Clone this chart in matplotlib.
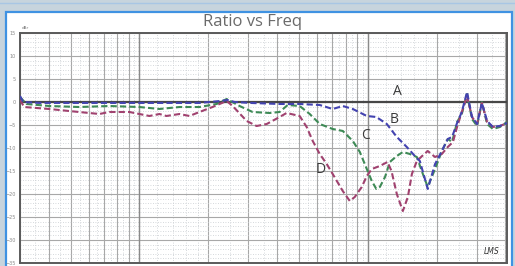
import numpy as np
import matplotlib
matplotlib.use("Agg")
import matplotlib.pyplot as plt
from matplotlib.patches import Rectangle
from matplotlib.ticker import FixedLocator, NullFormatter

# frequency (Hz) / level (dB)
freq_b = [300, 310, 364, 545, 817, 1224, 1833, 2240, 2430, 2610, 3040, 4110, 5030, 6160,
          7020, 7770, 8600, 9900, 10900, 12110, 13400, 14830, 16070, 16900, 18300, 19700,
          21100, 22400, 23400, 24600, 25800, 27200, 28600, 30100, 31600, 33300, 35300, 37900, 40700]
db_b = [1.3, 0, -0.2, -0.2, -0.2, -0.2, -0.2, 0.2, 0.43, 0, -0.2, -0.43, -0.43, -0.65,
        -1.52, -0.87, -1.52, -3.04, -3.26, -4.78, -7.6, -9.8, -11.74, -12.83, -18.9, -13.5,
        -10.65, -8.04, -7.6, -4.57, -2.17, 2.17, -3.26, -4.78, -0.2, -4.13, -5.43, -5.2, -4.57]

freq_c = [300, 320, 403, 545, 738, 1000, 1224, 1498, 1833, 2180, 2410, 2746, 3130, 3720,
          4110, 4460, 5030, 5570, 6160, 7020, 7770, 8600, 9230, 9900, 10410, 10900, 11290,
          11900, 12490, 13400, 14240, 15280, 16400, 17300, 18300, 19700, 21100, 22400, 23400,
          24600, 25800, 27200, 28600, 30100, 31600, 33300, 35300, 37900, 40700]
db_c = [1.09, -0.43, -0.87, -1.09, -0.87, -1.09, -1.52, -1.09, -1.09, -0.43, 0.65, -0.87,
        -2.17, -2.39, -2.17, -0.65, -0.87, -2.61, -4.78, -5.87, -6.3, -8.48, -10.87, -14.57,
        -17.17, -18.91, -18.48, -16.3, -13.04, -11.74, -10.87, -11.3, -11.96, -15.22, -18.48,
        -14.57, -10.65, -8.04, -8.7, -4.35, -2.61, 1.74, -3.7, -5.22, 0, -4.78, -5.87, -5.43, -4.35]

freq_d = [300, 313, 403, 493, 668, 738, 904, 1000, 1106, 1224, 1313, 1498, 1656, 1833, 2090,
          2410, 2560, 2950, 3260, 3610, 4110, 4410, 5030, 5400, 5740, 6160, 6610, 7020, 7770,
          8340, 8770, 9410, 9900, 10410, 11290, 12200, 12700, 13400, 14240, 14980, 15600, 16400,
          17300, 18300, 19700, 21100, 22400, 23600, 24600, 25800, 27200, 28600, 30100, 31600,
          33300, 35300, 37900, 40700]
db_d = [0.43, -1.09, -1.52, -1.96, -2.61, -2.17, -2.17, -2.61, -3.04, -2.61, -3.04, -2.61,
        -3.04, -2.17, -1.09, 0.22, -0.87, -4.13, -5.22, -4.78, -3.26, -2.39, -3.04, -5.43,
        -8.48, -11.3, -13.48, -15.65, -19.35, -21.52, -20.65, -18.48, -16.09, -14.57, -13.91,
        -13.04, -15.0, -20.0, -23.7, -20.65, -15.65, -12.83, -11.74, -10.65, -11.96, -11.3,
        -9.78, -8.7, -5.43, -2.17, 1.3, -3.26, -4.78, -0.22, -4.35, -5.43, -5.22, -4.57]

y_ticks = [15, 10, 5, 0, -5, -10, -15, -20, -25, -30, -35]
labels = ["A", "B", "C", "D"]
label_pos = [(13500, 2.2), (13000, -3.7), (9800, -7.3), (6200, -14.6)]

W, H = 515, 266
fig = plt.figure(figsize=(W / 100, H / 100), dpi=100, facecolor="#c7d4dd")

# page background bits
fig.add_artist(plt.Line2D([0, 1], [1 - 3 / H, 1 - 3 / H], color="#a8c6e4", lw=1, zorder=-2))
fig.add_artist(Rectangle((6 / W, -0.05), 506 / W, 1.05 - 12 / H, transform=fig.transFigure,
                         facecolor="white", edgecolor="#3f92e2", lw=1.6, zorder=-2))

ax = fig.add_axes([20 / W, 3 / H, 487 / W, 230 / H])
ax.set_zorder(1)
ax.set_xscale("log")
ax.set_xlim(300, 40700)
ax.set_ylim(-35, 15)
ax.set_facecolor("white")

# grid
subs = np.arange(1, 10)
major_x = [s * 10 ** e for e in range(2, 5) for s in subs]
minor_x = [s * 10 ** e for e in range(2, 5)
           for s in [1.2, 1.4, 1.6, 1.8, 2.5, 3.5, 4.5, 5.5, 6.5, 7.5, 8.5, 9.5]]
ax.xaxis.set_major_locator(FixedLocator(major_x))
ax.xaxis.set_minor_locator(FixedLocator(minor_x))
ax.xaxis.set_major_formatter(NullFormatter())
ax.xaxis.set_minor_formatter(NullFormatter())
ax.set_yticks(y_ticks)
ax.set_yticks(np.arange(-35, 16, 1), minor=True)
ax.grid(which="major", color="#a8a8a8", lw=0.8)
ax.grid(which="minor", color="#c8ccd0", lw=0.6, ls=(0, (1, 2)))
for d in [1000, 10000]:
    ax.axvline(d, color="#8a8a8a", lw=1.0)
ax.tick_params(which="both", length=0)
ax.tick_params(axis="y", labelsize=3.5, labelcolor="#8a8a8a", pad=3)
for s in ax.spines.values():
    s.set_color("#5a5a5a")
    s.set_linewidth(1.4)

# curves
ax.axhline(0, color="#474747", lw=1.6, zorder=3)
ax.plot(freq_c, db_c, color="#3e8a56", lw=1.5, ls=(0, (3, 1.5)), zorder=4)
ax.plot(freq_d, db_d, color="#a0426f", lw=1.5, ls=(0, (3, 1.5)), zorder=4)
ax.plot(freq_b, db_b, color="#4343b0", lw=1.5, ls=(0, (3, 1.5)), zorder=5)

for lab, (fx, fy) in zip(labels, label_pos):
    ax.text(fx, fy, lab, fontsize=10, color="#3a3a3a", ha="center", va="center",
            family="Open Sans")

ax.text(0.985, 0.03, "LMS", transform=ax.transAxes, fontsize=5.5, style="italic",
        color="#333333", ha="right", va="bottom")
fig.text(22 / W, 1 - 30 / H, "dBr", fontsize=3, color="#777777", ha="left", va="bottom")

fig.text(253 / W, 1 - 22 / H, "Ratio vs Freq", fontsize=12, color="#6a6a6a",
         ha="center", va="center", family="Open Sans")

fig.savefig("out.png", dpi=100, facecolor=fig.get_facecolor())
